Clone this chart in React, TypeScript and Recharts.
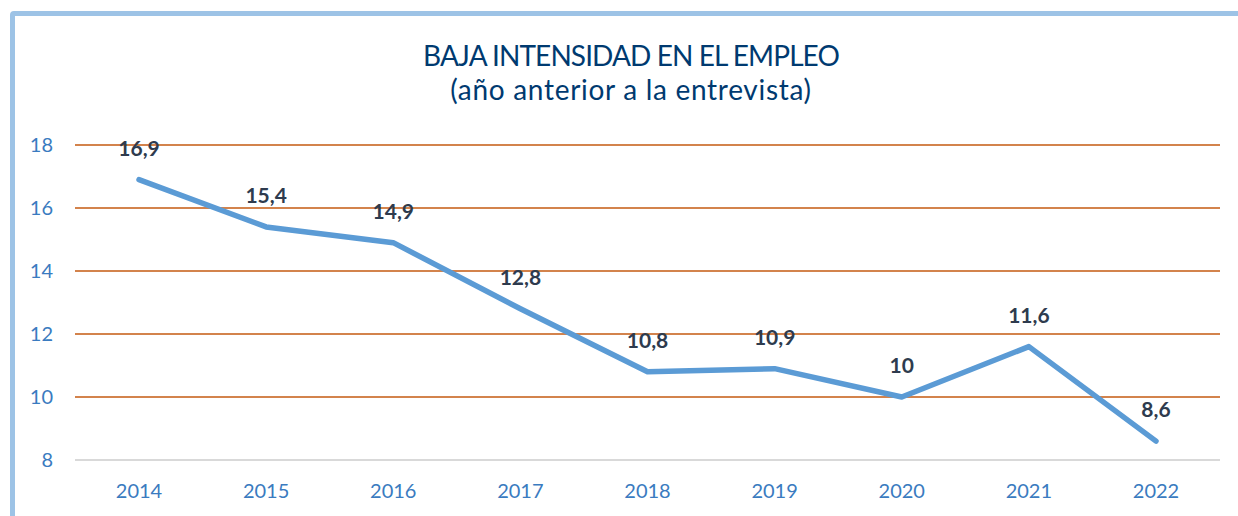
import React from "react";
import { LineChart, Line, XAxis, YAxis, CartesianGrid, LabelList } from "recharts";

const years = ["2014", "2015", "2016", "2017", "2018", "2019", "2020", "2021", "2022"];
const values = [16.9, 15.4, 14.9, 12.8, 10.8, 10.9, 10, 11.6, 8.6];
const yTicks = [8, 10, 12, 14, 16, 18];
const title = "BAJA INTENSIDAD EN EL EMPLEO";
const subtitle = "(año anterior a la entrevista)";

const data = years.map((y, i) => ({ year: y, value: values[i] }));

const FONT = "Lato, 'Open Sans', sans-serif";

export default function App() {
  return (
    <div style={{ position: "absolute", left: 0, top: 0, width: 1238, height: 516, overflow: "hidden", background: "#fff", fontFamily: FONT }}>
      <div style={{ position: "absolute", left: 10, top: 11, width: 1250, height: 540, border: "5px solid #9DC3E6", borderRadius: 4, boxSizing: "border-box" }} />
      <div style={{ position: "absolute", left: 0, width: 1262, top: 38, textAlign: "center", color: "#003A70", fontSize: 28, lineHeight: "34px" }}>
        <div style={{ letterSpacing: -0.9 }}>{title}</div>
        <div style={{ letterSpacing: 0.7 }}>{subtitle}</div>
      </div>
      <LineChart
        width={1238}
        height={516}
        data={data}
        margin={{ top: 145, right: 18, bottom: 26, left: 0 }}
        style={{ position: "absolute", left: 0, top: 0 }}
      >
        <CartesianGrid vertical={false} stroke="#C55A11" strokeWidth={1.5} />
        <XAxis
          dataKey="year"
          padding={{ left: 64, right: 64 }}
          axisLine={{ stroke: "#D9D9D9", strokeWidth: 2 }}
          tickLine={false}
          tickMargin={18}
          tick={{ fill: "#3A7BC0", fontSize: 20, fontFamily: FONT, fontWeight: 400 }}
        />
        <YAxis
          width={75}
          domain={[8, 18]}
          ticks={yTicks}
          axisLine={false}
          tickLine={false}
          tickMargin={16}
          tick={{ fill: "#3A7BC0", fontSize: 20, fontFamily: FONT, fontWeight: 400 }}
        />
        <Line
          type="linear"
          dataKey="value"
          stroke="#5B9BD5"
          strokeWidth={5.5}
          strokeLinecap="round"
          strokeLinejoin="round"
          dot={false}
          isAnimationActive={false}
        >
          <LabelList
            dataKey="value"
            position="top"
            offset={24}
            formatter={(v: number) => String(v).replace(".", ",")}
            style={{ fill: "#2E3B4E", fontSize: 21, fontWeight: 700, fontFamily: FONT }}
          />
        </Line>
      </LineChart>
    </div>
  );
}
